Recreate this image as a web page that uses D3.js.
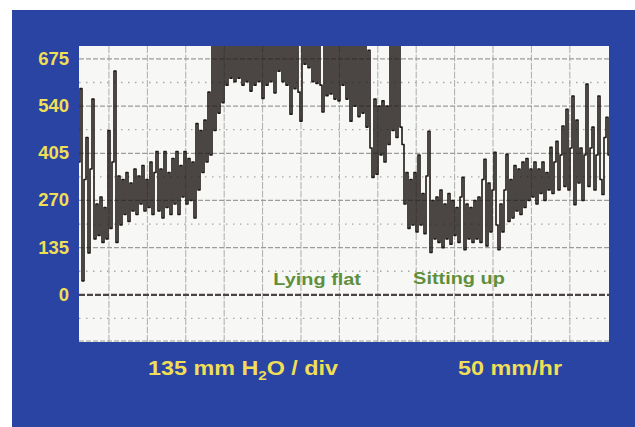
<!DOCTYPE html>
<html>
<head>
<meta charset="utf-8">
<script src="https://cdn.jsdelivr.net/npm/d3@7/dist/d3.min.js"></script>
<style>
  html, body { margin: 0; padding: 0; background: #ffffff; }
  svg { display: block; }
  text { font-family: "Liberation Sans", Arial, Helvetica, sans-serif; font-weight: bold; }
</style>
</head>
<body>
<svg id="chart" width="635" height="427"></svg>
<script>
// ---- data ----
const yTicks = [0, 135, 270, 405, 540, 675];
const yMinor = [-67.5, 67.5, 202.5, 337.5, 472.5, 607.5];
const xDivisions = [1, 2, 3, 4, 5, 6, 7, 8, 9, 10, 11, 12, 13];
const annotations = [
  { label: "Lying flat", div: 5.28, value: 28 },
  { label: "Sitting up", div: 8.92, value: 32 }
];
const scaleLabel = ["135 mm H", "2", "O / div"];
const speedLabel = "50 mm/hr";
// CSF pressure trace (mm H2O), evenly spaced in time
const pressure = [
  380,590,40,330,450,120,360,560,160,260,170,280,150,250,160,470,190,380,640,150,
  340,200,330,230,350,210,320,240,360,230,340,260,370,240,330,250,380,230,350,410,
  240,360,220,410,250,350,230,390,260,410,230,370,280,410,260,390,270,380,220,490,
  300,470,350,500,380,580,400,720,470,720,520,720,550,720,600,720,620,720,610,720,
  620,720,600,720,610,720,583,720,600,720,610,720,562,720,600,720,610,720,578,720,
  640,720,610,720,600,720,517,720,590,720,580,497,720,660,720,650,720,610,720,605,
  720,600,523,720,570,720,575,720,560,720,555,720,600,720,560,720,497,720,540,720,
  510,720,520,720,480,700,420,336,560,345,540,400,555,380,540,430,720,470,720,450,
  720,480,430,260,350,190,330,200,350,180,400,200,290,175,340,468,121,270,160,280,
  150,300,135,260,160,290,145,270,170,250,150,280,336,129,260,160,250,150,270,160,
  280,150,330,388,140,320,180,300,408,200,129,260,180,300,402,210,330,220,370,240,
  360,230,380,250,390,270,360,280,380,260,360,290,380,270,350,300,422,290,380,439,
  300,400,483,310,531,300,420,569,258,500,320,420,270,400,603,310,420,480,300,400,
  569,330,287,450,508,400
];

// ---- layout ----
const svg = d3.select("#chart");
const W = 635, H = 427;
const panel = { left: 79, top: 46, right: 609, bottom: 342 };

const x = d3.scaleLinear().domain([0.22, 14.02]).range([panel.left, panel.right]);
const y = d3.scaleLinear().domain([-135, 712]).range([panel.bottom, panel.top]);
const tOf = d3.scaleLinear().domain([0, pressure.length - 1]).range(x.domain());

// slide background
svg.append("rect").attr("x", 0).attr("y", 0).attr("width", W).attr("height", H).attr("fill", "#ffffff");
svg.append("rect").attr("x", 12).attr("y", 10).attr("width", W - 12).attr("height", H - 10).attr("fill", "#2a44a4");

// chart paper
svg.append("rect")
  .attr("x", panel.left).attr("y", panel.top)
  .attr("width", panel.right - panel.left).attr("height", panel.bottom - panel.top)
  .attr("fill", "#f7f7f5");

svg.append("clipPath").attr("id", "clip").append("rect")
  .attr("x", panel.left).attr("y", panel.top)
  .attr("width", panel.right - panel.left).attr("height", panel.bottom - panel.top);

const grid = svg.append("g").attr("clip-path", "url(#clip)");

// vertical grid lines
grid.selectAll("line.v").data(xDivisions).join("line")
  .attr("class", "v")
  .attr("x1", d => x(d)).attr("x2", d => x(d))
  .attr("y1", panel.top).attr("y2", panel.bottom)
  .attr("stroke", "#adadad").attr("stroke-width", 1)
  .attr("stroke-dasharray", "7,1.5");

// minor dotted lines
grid.selectAll("line.minor").data(yMinor).join("line")
  .attr("class", "minor")
  .attr("x1", panel.left).attr("x2", panel.right)
  .attr("y1", d => y(d)).attr("y2", d => y(d))
  .attr("stroke", "#a8a8a8").attr("stroke-width", 1.3)
  .attr("stroke-dasharray", "1.5,5.5");

// major dashed lines
grid.selectAll("line.major").data(yTicks.filter(d => d !== 0).concat([-135])).join("line")
  .attr("class", "major")
  .attr("x1", panel.left).attr("x2", panel.right)
  .attr("y1", d => y(d) + (d === -135 ? -1 : 0)).attr("y2", d => y(d) + (d === -135 ? -1 : 0))
  .attr("stroke", "#9c9c9c").attr("stroke-width", 1.2)
  .attr("stroke-dasharray", "5,2");

// zero baseline
grid.append("line")
  .attr("x1", panel.left).attr("x2", panel.right)
  .attr("y1", y(0)).attr("y2", y(0))
  .attr("stroke", "#4a4544").attr("stroke-width", 2.2)
  .attr("stroke-dasharray", "6,2");

// trace (pen strokes: vertical excursions between successive samples)
const line = d3.line()
  .x((d, i) => x(tOf(i)))
  .y(d => y(d))
  .curve(d3.curveStep);
svg.append("g").attr("clip-path", "url(#clip)")
  .append("path")
  .datum(pressure)
  .attr("d", line)
  .attr("fill", "none")
  .attr("stroke", "#1f1917")
  .attr("stroke-width", 1.6)
  .attr("stroke-linejoin", "round");

// y labels
const yl = svg.append("g");
yl.selectAll("text").data(yTicks).join("text")
  .attr("x", 69).attr("y", d => y(d) + 6)
  .attr("text-anchor", "end")
  .attr("font-size", 18.5)
  .attr("fill", "#f0df55")
  .text(d => d);

// annotations
svg.selectAll("text.ann").data(annotations).join("text")
  .attr("class", "ann")
  .attr("x", d => x(d.div)).attr("y", d => y(d.value))
  .attr("font-size", 17)
  .attr("fill", "#5e8f3c")
  .text(d => d.label)
  .each(function() {
    const w = this.getComputedTextLength();
    d3.select(this).attr("textLength", w * 1.17).attr("lengthAdjust", "spacingAndGlyphs");
  });

// bottom labels
const t1 = svg.append("text")
  .attr("x", 148).attr("y", 375)
  .attr("font-size", 20)
  .attr("fill", "#f0df55");
t1.append("tspan").text(scaleLabel[0]);
t1.append("tspan").attr("font-size", 13).attr("dy", 5).text(scaleLabel[1]);
t1.append("tspan").attr("dy", -5).text(scaleLabel[2]);
t1.attr("textLength", 190).attr("lengthAdjust", "spacingAndGlyphs");

svg.append("text")
  .attr("x", 458).attr("y", 375)
  .attr("font-size", 20)
  .attr("fill", "#f0df55")
  .attr("textLength", 104).attr("lengthAdjust", "spacingAndGlyphs")
  .text(speedLabel);
</script>
</body>
</html>
